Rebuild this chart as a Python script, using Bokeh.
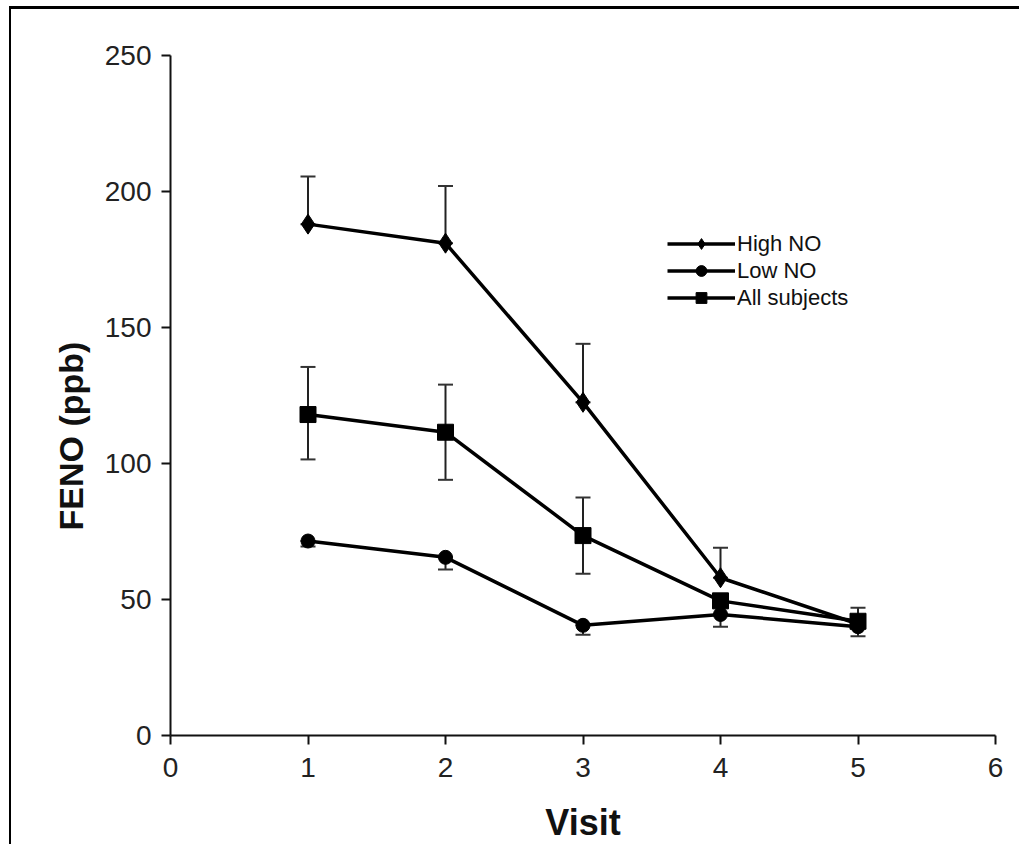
from bokeh.plotting import figure
from bokeh.models import ColumnDataSource, Whisker, TeeHead, Legend, LegendItem, FixedTicker, Title
from bokeh.embed import file_html
from bokeh.resources import INLINE

visits = [1, 2, 3, 4, 5]
high_no = [188, 181, 122.5, 58, 41]
high_no_upper = [205.5, 202, 144, 69, 47]
low_no = [71.5, 65.5, 40.5, 44.5, 40]
low_no_lower = [69.5, 61, 37, 40, 36.5]
all_subj = [118, 111.5, 73.5, 49.5, 42]
all_subj_upper = [135.5, 129, 87.5, 52, 44]
all_subj_lower = [101.5, 94, 59.5, 47, 40]
x_ticks = [0, 1, 2, 3, 4, 5, 6]
y_ticks = [0, 50, 100, 150, 200, 250]

FONT = "Liberation Sans"

p = figure(width=1008, height=832, x_range=(0, 6), y_range=(0, 250),
           output_backend="svg", toolbar_location=None,
           frame_width=825, frame_height=680,
           min_border_left=159, min_border_top=46, min_border_right=24, min_border_bottom=106)
p.styles = {"border-top": "3px solid black", "border-left": "2px solid black",
            "margin-left": "9px", "margin-top": "6px"}
p.grid.visible = False
p.outline_line_color = None
p.background_fill_color = "white"
p.border_fill_color = "white"

for ax in (p.xaxis[0], p.yaxis[0]):
    ax.axis_line_width = 2
    ax.axis_line_color = "#111111"
    ax.major_tick_line_width = 2
    ax.major_tick_line_color = "#111111"
    ax.major_tick_in = 0
    ax.major_tick_out = 9
    ax.minor_tick_line_color = None
    ax.major_label_text_font = FONT
    ax.major_label_text_font_size = "28px"
    ax.major_label_text_color = "#222222"
    ax.axis_label_text_font = FONT
    ax.axis_label_text_font_style = "bold"
    ax.axis_label_text_color = "#111111"

p.xaxis.ticker = FixedTicker(ticks=x_ticks)
p.yaxis.ticker = FixedTicker(ticks=y_ticks)
p.xaxis.axis_label = "Visit"
p.xaxis.axis_label_text_font_size = "36px"
p.xaxis.major_label_standoff = 13
p.yaxis.major_label_standoff = 10
p.xaxis.axis_label_standoff = 22

ytitle = Title(text="FENO (ppb)", align="left", offset=205, standoff=24,
               text_font=FONT, text_font_style="bold", text_font_size="34px",
               text_color="#111111")
p.add_layout(ytitle, "left")

src = ColumnDataSource(dict(x=visits, high=high_no, high_up=high_no_upper,
                            low=low_no, low_dn=low_no_lower,
                            alls=all_subj, all_up=all_subj_upper, all_dn=all_subj_lower))

lw = 3.5
r_high_l = p.line("x", "high", source=src, line_color="black", line_width=lw)
r_low_l = p.line("x", "low", source=src, line_color="black", line_width=lw)
r_all_l = p.line("x", "alls", source=src, line_color="black", line_width=lw)

r_high_m = p.scatter("x", "high", source=src, marker="diamond", size=20, color="black")
r_low_m = p.scatter("x", "low", source=src, marker="circle", size=14, color="black")
r_all_m = p.scatter("x", "alls", source=src, marker="square", size=16, color="black")

def whisker(lower, upper):
    w = Whisker(base="x", lower=lower, upper=upper, source=src,
                line_color="#222222", line_width=2,
                upper_head=TeeHead(size=15, line_color="#333333", line_width=2),
                lower_head=TeeHead(size=15, line_color="#333333", line_width=2))
    p.add_layout(w)

whisker("high", "high_up")
whisker("low_dn", "low")
whisker("all_dn", "all_up")

legend = Legend(items=[
    LegendItem(label="High NO", renderers=[r_high_l, r_high_m]),
    LegendItem(label="Low NO", renderers=[r_low_l, r_low_m]),
    LegendItem(label="All subjects", renderers=[r_all_l, r_all_m]),
], location=(497, 424))
legend.border_line_color = None
legend.background_fill_alpha = 0
legend.padding = 0
legend.margin = 0
legend.spacing = 0
legend.glyph_width = 68
legend.glyph_height = 27
legend.label_height = 27
legend.label_standoff = 2
legend.label_text_font = FONT
legend.label_text_font_size = "22px"
legend.label_text_color = "#111111"
p.add_layout(legend)

open("out.html", "w").write(file_html(p, INLINE))
